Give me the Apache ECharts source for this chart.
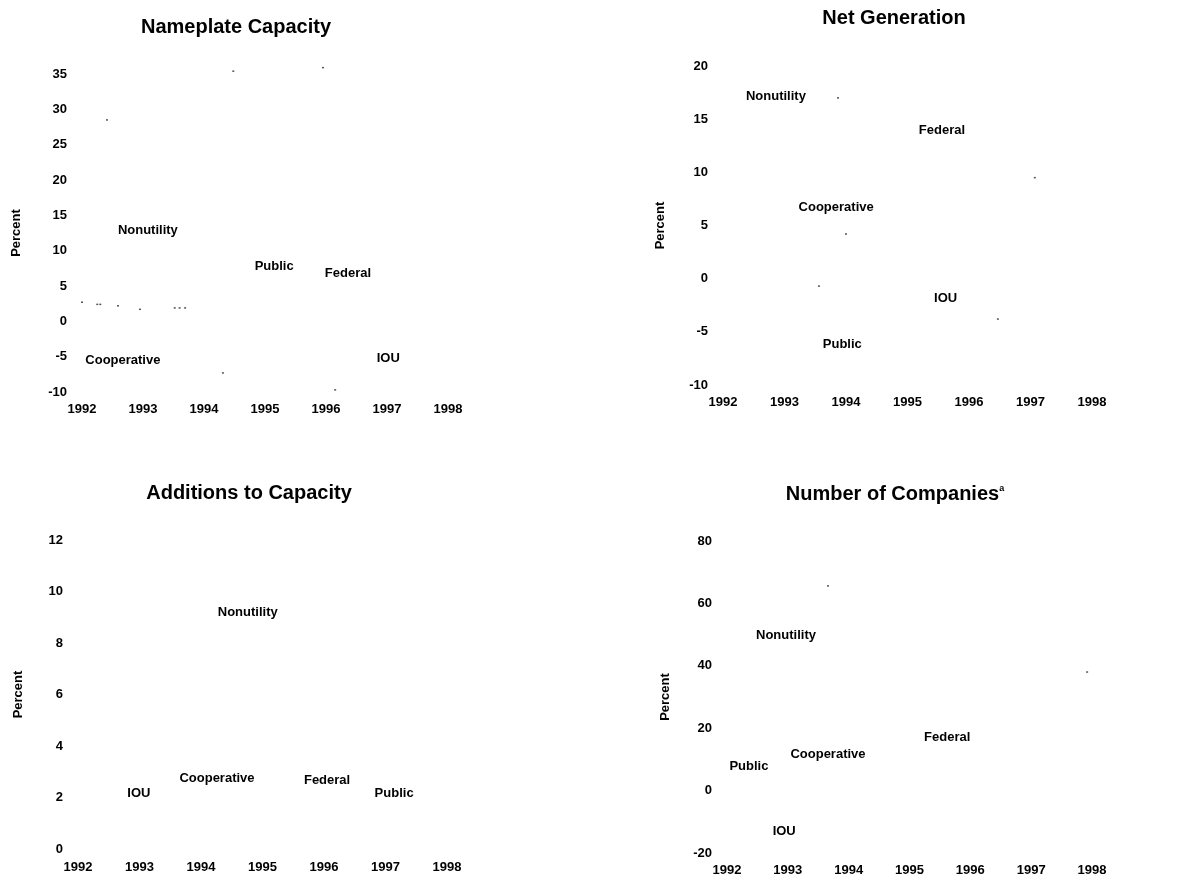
<!DOCTYPE html>
<html>
<head>
<meta charset="utf-8">
<script src="https://cdn.jsdelivr.net/npm/echarts@6/dist/echarts.min.js"></script>
<style>
html,body{margin:0;padding:0;background:#fff;}
#chart{width:1177px;height:880px;}
</style>
</head>
<body>
<div id="chart"></div>
<script>
// ---- Data ----
const years = [1992, 1993, 1994, 1995, 1996, 1997, 1998];
const seriesNames = ['Nonutility', 'Cooperative', 'Public', 'Federal', 'IOU'];

// Label anchor positions (year, percent) for each ownership class, per panel
const nameplateX = [1993.08, 1992.67, 1995.15, 1996.36, 1997.02];
const nameplateY = [12.8, -5.5, 7.7, 6.8, -5.3];

const netGenX = [1992.86, 1993.84, 1993.94, 1995.56, 1995.62];
const netGenY = [17.1, 6.7, -6.2, 13.9, -1.9];

const additionsX = [1994.76, 1994.26, 1997.14, 1996.05, 1992.99];
const additionsY = [9.2, 2.76, 2.17, 2.68, 2.14];

const companiesX = [1992.97, 1993.66, 1992.36, 1995.62, 1992.94];
const companiesY = [49.6, 11.7, 7.6, 16.9, -13.0];

// Faint residual marks visible in the picture
const nameplateTraceX = [1994.48, 1995.95, 1992.41, 1992.0, 1992.25, 1992.3, 1992.59, 1992.95, 1993.52, 1993.6, 1993.69, 1994.31, 1996.15];
const nameplateTraceY = [35.4, 35.9, 28.5, 2.7, 2.4, 2.4, 2.2, 1.7, 1.9, 1.9, 1.9, -7.3, -9.7];
const netGenTraceX = [1993.87, 1997.07, 1994.0, 1993.56, 1996.47];
const netGenTraceY = [17.0, 9.5, 4.2, -0.7, -3.8];
const companiesTraceX = [1993.66, 1997.92];
const companiesTraceY = [65.6, 38.0];

// Tick settings
const nameplateTicks = {min: -10, max: 35, interval: 5};
const netGenTicks = {min: -10, max: 20, interval: 5};
const additionsTicks = {min: 0, max: 12, interval: 2};
const companiesTicks = {min: -20, max: 80, interval: 20};

const titles = ['Nameplate Capacity', 'Net Generation', 'Additions to Capacity', 'Number of Companies'];
const yAxisName = 'Percent';

// ---- Chart ----
const FONT = "'Liberation Sans', Arial, Helvetica, sans-serif";
const chart = echarts.init(document.getElementById('chart'));

const grids = [
  {left: 82, top: 74, width: 366, height: 318},
  {left: 723, top: 66, width: 369, height: 319},
  {left: 78, top: 540, width: 369, height: 309},
  {left: 727, top: 541, width: 365, height: 312}
];
const tickSets = [nameplateTicks, netGenTicks, additionsTicks, companiesTicks];
const nameGaps = [59, 56, 53, 55];
const xLabelMargins = [11, 11, 12, 11];

const xAxes = grids.map((g, i) => ({
  type: 'value', gridIndex: i, min: years[0], max: years[years.length - 1], interval: 1,
  axisLine: {show: false}, axisTick: {show: false}, splitLine: {show: false},
  axisLabel: {color: '#000', fontFamily: FONT, fontSize: 13, fontWeight: 'bold',
    margin: xLabelMargins[i], formatter: v => String(v)}
}));
const yAxes = grids.map((g, i) => ({
  type: 'value', gridIndex: i, min: tickSets[i].min, max: tickSets[i].max, interval: tickSets[i].interval,
  axisLine: {show: false}, axisTick: {show: false}, splitLine: {show: false},
  axisLabel: {color: '#000', fontFamily: FONT, fontSize: 13, fontWeight: 'bold', margin: 15},
  name: yAxisName, nameLocation: 'middle', nameGap: nameGaps[i], nameRotate: 90,
  nameTextStyle: {color: '#000', fontFamily: FONT, fontSize: 13, fontWeight: 'bold'}
}));

function labelSeries(xs, ys, idx) {
  return {
    type: 'scatter', xAxisIndex: idx, yAxisIndex: idx, symbolSize: 0, clip: false,
    silent: true, itemStyle: {opacity: 1},
    data: seriesNames.map((n, k) => ({name: n, value: [xs[k], ys[k]]})),
    label: {show: true, position: 'inside', formatter: p => p.name,
      color: '#000', fontFamily: FONT, fontSize: 13, fontWeight: 'bold'}
  };
}
function traceSeries(xs, ys, idx) {
  return {
    type: 'scatter', xAxisIndex: idx, yAxisIndex: idx, symbol: 'rect', symbolSize: [2, 1.5], clip: false,
    silent: true, itemStyle: {color: '#555', opacity: 1},
    data: xs.map((x, k) => [x, ys[k]])
  };
}

const titleCenters = [[236, 17], [894, 8], [249, 483], [895, 484]];

chart.setOption({
  animation: false,
  title: titles.map((t, i) => ({
    text: i === 3 ? '{t|' + t + '}{s|a}' : t,
    left: titleCenters[i][0], top: titleCenters[i][1], textAlign: 'center', padding: 0,
    textStyle: {color: '#000', fontFamily: FONT, fontSize: 20, fontWeight: 'bold',
      rich: {t: {color: '#000', fontFamily: FONT, fontSize: 20, fontWeight: 'bold'},
             s: {color: '#000', fontFamily: FONT, fontSize: 9, fontWeight: 'bold', verticalAlign: 'top', padding: [0, 0, 10, 0]}}}
  })),
  grid: grids,
  xAxis: xAxes,
  yAxis: yAxes,
  series: [
    labelSeries(nameplateX, nameplateY, 0),
    labelSeries(netGenX, netGenY, 1),
    labelSeries(additionsX, additionsY, 2),
    labelSeries(companiesX, companiesY, 3),
    traceSeries(nameplateTraceX, nameplateTraceY, 0),
    traceSeries(netGenTraceX, netGenTraceY, 1),
    traceSeries(companiesTraceX, companiesTraceY, 3)
  ]
});
</script>
</body>
</html>
